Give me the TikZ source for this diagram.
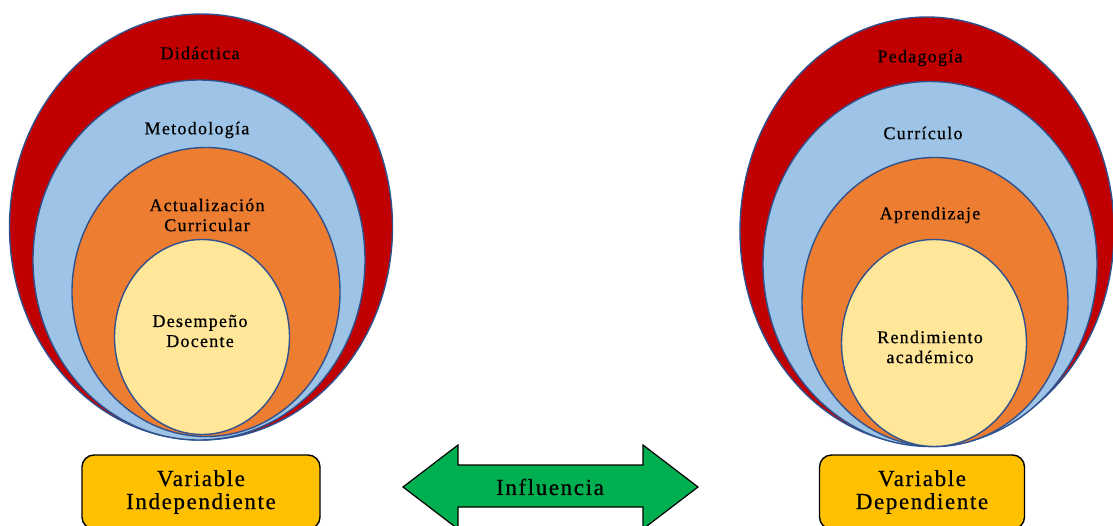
\documentclass[tikz,border=0pt]{standalone}
\usepackage{fontspec}
\setmainfont{Liberation Serif}
\newfontfamily\letrero[LetterSpace=7,FakeBold=0.6]{Liberation Serif}
\usetikzlibrary{shapes.geometric}
\definecolor{rojo}{HTML}{C00000}
\definecolor{celeste}{HTML}{9DC3E6}
\definecolor{naranja}{HTML}{ED7D31}
\definecolor{crema}{HTML}{FFE699}
\definecolor{borde}{HTML}{2F528F}
\definecolor{oro}{HTML}{FFC000}
\definecolor{verde}{HTML}{00B050}
\tikzset{
	capa/.style = {ellipse, inner sep=0pt, draw=borde, line width=1.4pt},
	capa_r/.style = {capa, fill=rojo},% capa exterior, roja
	capa_c/.style = {capa, fill=celeste},% segunda capa
	capa_n/.style = {capa, fill=naranja},% tercera capa
	capa_y/.style = {capa, fill=crema},% nucleo
	etiq/.style = {align=center, inner sep=0pt, text=black,
		font=\letrero\fontsize{18}{20}\selectfont},
	caja/.style = {rectangle, rounded corners=12pt, draw=black, line width=1.4pt,
		fill=oro, align=center, inner sep=0pt, font=\letrero\fontsize{23}{23}\selectfont}
}
\begin{document}
\begin{tikzpicture}[x=1pt,y=-1pt]
\useasboundingbox (0,0) rectangle (1113,525);
% variable independiente
\node [capa_r, minimum width=383pt, minimum height=426pt] (didac) at (201,227) {};
\node [capa_c, minimum width=332pt, minimum height=360pt] (metod) at (199,260) {};
\node [capa_n, minimum width=268pt, minimum height=289pt] (actua) at (206,292) {};
\node [capa_y, minimum width=175pt, minimum height=195pt] (desem) at (202,337) {};
\node [etiq] (t_didac) at (200,53) {Didáctica};
\node [etiq] (t_metod) at (197,130) {Metodología};
\node [etiq] (t_actua) at (207,215) {Actualización\\Curricular};
\node [etiq] (t_desem) at (200,331) {Desempeño\\Docente};
% variable dependiente
\node [capa_r, minimum width=374pt, minimum height=428pt] (pedag) at (927,231) {};
\node [capa_c, minimum width=334pt, minimum height=365pt] (curri) at (930,264) {};
\node [capa_n, minimum width=266pt, minimum height=289pt] (apren) at (935,302) {};
\node [capa_y, minimum width=185pt, minimum height=207pt] (rendi) at (934,343) {};
\node [etiq] (t_pedag) at (920,58) {Pedagogía};
\node [etiq] (t_curri) at (923,133) {Currículo};
\node [etiq] (t_apren) at (930,215) {Aprendizaje};
\node [etiq] (t_rendi) at (930,347) {Rendimiento\\académico};
% cajas
\node [caja, minimum width=238pt, minimum height=74pt] (v_ind) at (201,492)
	{Variable\\Independiente};
\node [caja, minimum width=205pt, minimum height=74pt] (v_dep) at (922,492)
	{Variable\\Dependiente};
% flecha doble
\draw [fill=verde, draw=black, line width=1.2pt] (403,487) -- (458,445) -- (458,465)
	-- (643,465) -- (643,445) -- (698,487) -- (643,529) -- (643,507)
	-- (458,507) -- (458,529) -- cycle;
\node [etiq, font=\letrero\fontsize{23}{23}\selectfont] (influ) at (550,487) {Influencia};
\end{tikzpicture}
\end{document}
